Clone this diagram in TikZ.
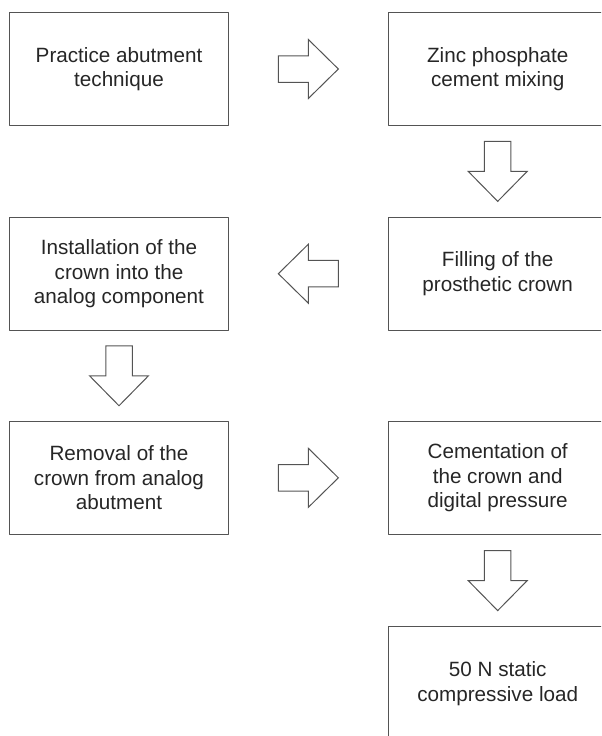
\documentclass[tikz,border=0pt]{standalone}
\usepackage{fontspec}
\setmainfont{Liberation Sans}
\usetikzlibrary{calc}
\definecolor{boxgray}{rgb}{0.33,0.33,0.33}
\definecolor{textgray}{rgb}{0.15,0.15,0.15}

\tikzset{
  stepbox/.style={draw=boxgray, line width=0.75pt, minimum width=164.5pt, minimum height=85pt,
    inner sep=0pt, align=center, text=textgray, font=\fontsize{15.5pt}{18.4pt}\selectfont},
  blockarrow/.pic={
    \draw[line width=0.75pt, color=boxgray, line join=miter]
      (-30,-13.25) -- (0,-13.25) -- (0,-29.5) -- (30,0) -- (0,29.5) -- (0,13.25) -- (-30,13.25) -- cycle;
  }
}

\begin{document}
\begin{tikzpicture}[line cap=round,line join=round,x=0.75pt,y=-0.75pt]

    \useasboundingbox (0,0) rectangle (601,736);
    \clip (0,0) rectangle (601,736);

    % steps
    \node[stepbox] (practice) at (119,69) {Practice abutment\\technique};
    \node[stepbox] (zinc) at (497.7,69) {Zinc phosphate\\cement mixing};
    \node[stepbox] (install) at (119,273.7) {Installation of the\\crown into the\\analog component};
    \node[stepbox] (filling) at (497.7,273.7) {Filling of the\\prosthetic crown};
    \node[stepbox] (removal) at (119,477.8) {Removal of the\\crown from analog\\abutment};
    \node[stepbox] (cement) at (497.7,477.8) {Cementation of\\the crown and\\digital pressure};
    \node[stepbox] (load) at (497.7,683.4) {50 N static\\compressive load};

    % block arrows between the steps
    \pic at ($(practice.east)!0.5!(zinc.west)$) {blockarrow};
    \pic[rotate=-90] at ($(zinc.south)!0.5!(filling.north)$) {blockarrow};
    \pic[rotate=180] at ($(filling.west)!0.5!(install.east)$) {blockarrow};
    \pic[rotate=-90] at ($(install.south)!0.5!(removal.north)$) {blockarrow};
    \pic at ($(removal.east)!0.5!(cement.west)$) {blockarrow};
    \pic[rotate=-90] at ($(cement.south)!0.5!(load.north)$) {blockarrow};

\end{tikzpicture}
\end{document}
